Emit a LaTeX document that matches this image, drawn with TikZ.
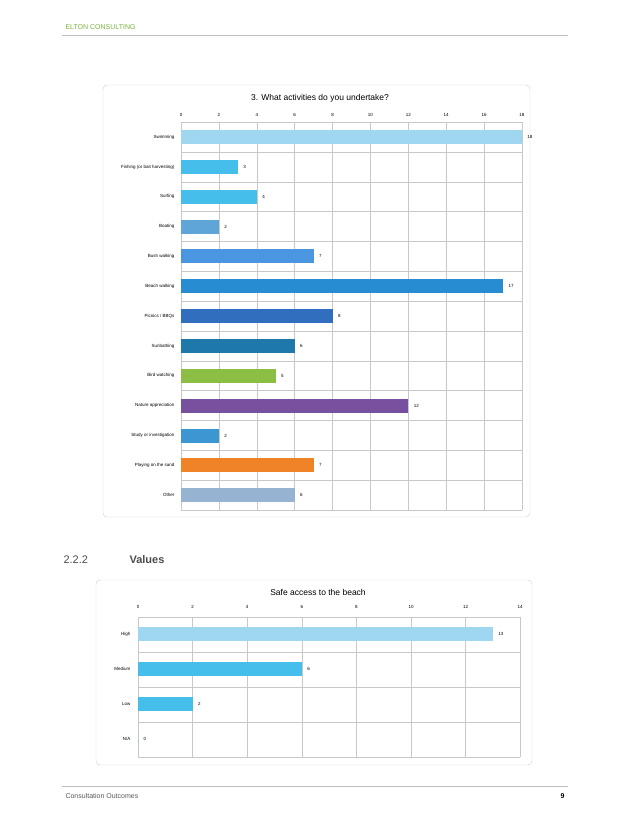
\documentclass[tikz,border=0pt]{standalone}
\usepackage{fontspec}
\setmainfont{Liberation Sans}
\usetikzlibrary{positioning}
\definecolor{elton}{RGB}{120,180,60}
\definecolor{cSwim}{RGB}{160,215,240}
\definecolor{cFish}{RGB}{70,190,235}
\definecolor{cBoat}{RGB}{95,165,215}
\definecolor{cBush}{RGB}{75,150,225}
\definecolor{cBeach}{RGB}{40,140,210}
\definecolor{cPicnic}{RGB}{50,110,190}
\definecolor{cSun}{RGB}{30,120,170}
\definecolor{cBird}{RGB}{140,190,70}
\definecolor{cNature}{RGB}{120,80,160}
\definecolor{cStudy}{RGB}{60,150,210}
\definecolor{cSand}{RGB}{240,130,40}
\definecolor{cOther}{RGB}{150,180,210}
\definecolor{gridc}{RGB}{200,200,200}

\begin{document}
\begin{tikzpicture}[
        x=1pt, y=-1pt,
        frame/.style={draw=gray!40, rounded corners=4pt},
        gridline/.style={draw=gridc, line width=0.4pt},
        tick/.style={font=\fontsize{4.5}{5}\selectfont},
        cat/.style={font=\fontsize{4.5}{5}\selectfont, left},
        val/.style={font=\fontsize{4.5}{5}\selectfont, right},
        title/.style={font=\fontsize{8.5}{10}\selectfont}
    ]
        \useasboundingbox (0,0) rectangle (637,824);

        % Header and footer
        \node[anchor=west, text=elton, font=\fontsize{7}{8}\selectfont] (firm) at (62,27) {ELTON CONSULTING};
        \draw[gray!50, line width=1pt] (62,36) -- (568,36);
        \draw[gray!50, line width=0.6pt] (62,786) -- (568,786);
        \node[anchor=west, font=\fontsize{7}{8}\selectfont, text=gray!70!black] (foot) at (62,796) {Consultation Outcomes};
        \node[anchor=east, font=\bfseries\fontsize{7}{8}\selectfont] (page) at (568,796) {9};

        % Chart 1
        \draw[frame] (103,85) rectangle (530,517);
        \node[title] (t1) at (320,98) {3. What activities do you undertake?};
        \foreach \v in {0,2,...,18} {
            \draw[gridline] (181+\v*18.94,122) -- (181+\v*18.94,510);
            \node[tick] at (181+\v*18.94,115) {\v};
        }
        \foreach \k in {0,...,13}
            \draw[gridline] (181,122+\k*29.85) -- (522,122+\k*29.85);
        \foreach \lab/\n/\col [count=\i from 0] in {
            Swimming/18/cSwim, Fishing (or bait harvesting)/3/cFish, Surfing/4/cFish,
            Boating/2/cBoat, Bush walking/7/cBush, Beach walking/17/cBeach,
            Picnics {/} BBQs/8/cPicnic, Sunbathing/6/cSun, Bird watching/5/cBird,
            Nature appreciation/12/cNature, Study or investigation/2/cStudy,
            Playing on the sand/7/cSand, Other/6/cOther} {
            \fill[\col] (181,130+\i*29.85) rectangle (181+\n*18.94,144+\i*29.85);
            \node[cat] at (178,137+\i*29.85) {\lab};
            \node[val] at (183+\n*18.94,137+\i*29.85) {\n};
        }

        % Section heading
        \node[anchor=west, font=\fontsize{11}{13}\selectfont, text=gray!60!black] (secnum) at (60,560) {2.2.2};
        \node[anchor=west, font=\bfseries\fontsize{11}{13}\selectfont, text=gray!60!black] (sec) at (126,560) {Values};

        % Chart 2
        \draw[frame] (96,580) rectangle (532,765);
        \node[title] (t2) at (318,592) {Safe access to the beach};
        \foreach \v in {0,2,...,14} {
            \draw[gridline] (138+\v*27.3,617) -- (138+\v*27.3,757);
            \node[tick] at (138+\v*27.3,607) {\v};
        }
        \foreach \k in {0,...,4}
            \draw[gridline] (138,617+\k*35) -- (520,617+\k*35);
        \foreach \lab/\n/\col [count=\i from 0] in {
            High/13/cSwim, Medium/6/cFish, Low/2/cFish, N{/}A/0/cFish} {
            \fill[\col] (138,627+\i*35) rectangle (138+\n*27.3,641+\i*35);
            \node[cat] at (134,634+\i*35) {\lab};
            \node[val] at (140+\n*27.3,634+\i*35) {\n};
        }
    \end{tikzpicture}
\end{document}
